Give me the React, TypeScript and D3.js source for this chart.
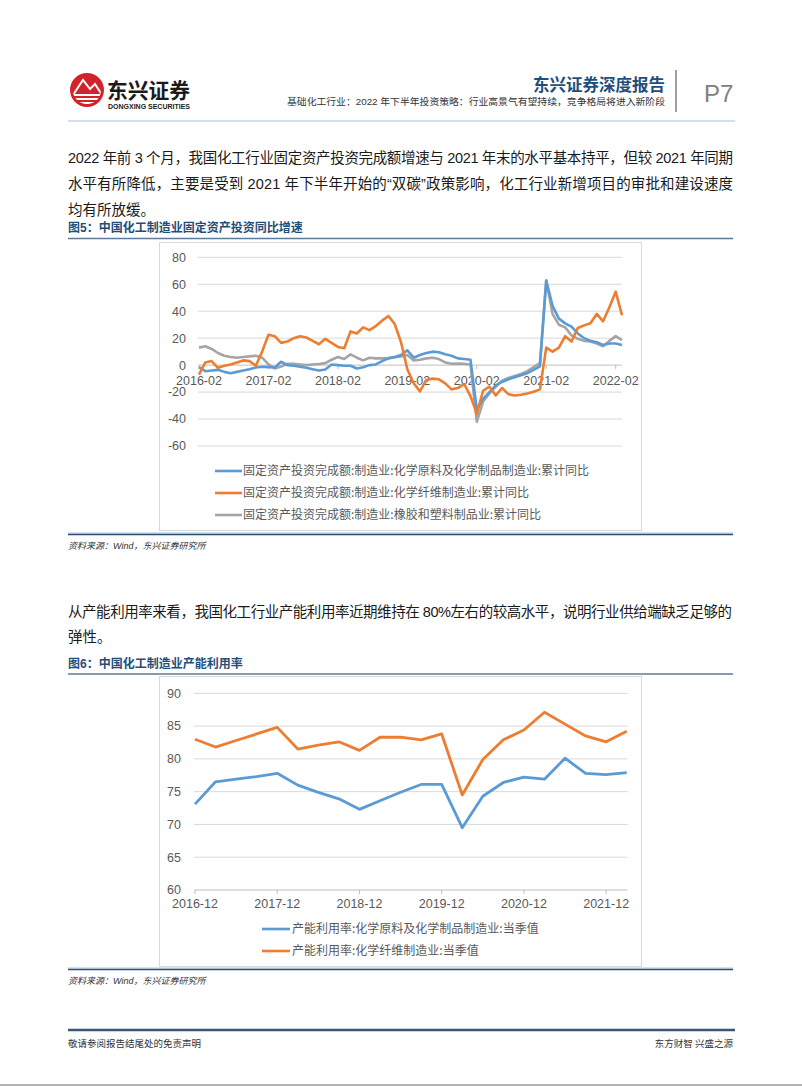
import React from 'react';
import * as d3 from 'd3';

// ---------- Chart 1 data (固定资产投资同比, %) ----------
const years1 = [2016, 2017, 2018, 2019, 2020, 2021];
const months1 = ['02', '03', '04', '05', '06', '07', '08', '09', '10', '11', '12'];
const categories1: string[] = [
  ...years1.flatMap((y) => months1.map((m) => `${y}-${m}`)),
  '2022-02',
  '2022-03',
];
const ticks1 = ['2016-02', '2017-02', '2018-02', '2019-02', '2020-02', '2021-02', '2022-02'];
const yTicks1 = [80, 60, 40, 20, 0, -20, -40, -60];

const chemRawYoY = [
  -1.5, -4.5, -4, -3.5, -5, -6, -5, -4, -3, -1.8, -1.2,
  -1.5, -1.7, 2.5, 0, -0.5, -1.2, -2, -3, -4, -3.2, 0.5,
  0, -0.5, -0.5, -2.5, -1.5, 0, 0.5, 3, 5, 6, 7.5,
  11, 5.5, 7.5, 9, 10, 9.5, 8, 7, 5, 4.5, 4,
  -33, -25, -20, -15, -12.5, -10.5, -9, -7.5, -6, -3.5, -1,
  62.5, 44, 34.5, 31, 28.5, 23.5, 20, 18, 17, 15, 16,
  16, 15,
];
const chemFiberYoY = [
  -7, 2, 3, -2, -0.5, 0.5, 2, 3.5, 3, -0.5, 10,
  22.5, 21.5, 16.5, 17.5, 20, 21.5, 20.5, 18, 15.5, 19.5, 16.5,
  13.5, 12.5, 25, 23.5, 28, 26, 29, 33, 36.5, 30.5, 17,
  -3, -13.5, -19.5, -11, -10, -10.5, -13.5, -18, -17, -14, -23,
  -36, -19, -16, -22.5, -17, -21.5, -22.5, -22, -21, -19.7, -18,
  13, 10, 13, 21.5, 17.5, 27.5, 29.5, 31, 38, 32.5, 43,
  54.5, 37,
];
const rubberPlasticYoY = [
  13, 14, 12, 9, 7, 6, 5.5, 6, 6.5, 7, 5.5,
  0.5, -2.5, -1, 1, 1, 0.5, 0, 0.5, 0.8, 1.5, 4,
  6, 4.5, 8, 5.5, 3.5, 5.5, 5, 5, 5.2, 5.8, 6.5,
  7.5, 3.5, 4, 5, 5.5, 4.5, 2, 1, 1.2, 1, 0.5,
  -42, -27, -21, -16, -11.5, -9.5, -8, -6.5, -4.5, -1.5, 1.5,
  63, 38, 30, 28, 22, 19.5, 18, 17.5, 16, 14, 18,
  21.5, 18.5,
];
const legend1 = [
  '固定资产投资完成额:制造业:化学原料及化学制品制造业:累计同比',
  '固定资产投资完成额:制造业:化学纤维制造业:累计同比',
  '固定资产投资完成额:制造业:橡胶和塑料制品业:累计同比',
];

// ---------- Chart 2 data (产能利用率, %) ----------
const categories2 = [
  '2016-12', '2017-03', '2017-06', '2017-09', '2017-12', '2018-03', '2018-06', '2018-09',
  '2018-12', '2019-03', '2019-06', '2019-09', '2019-12', '2020-03', '2020-06', '2020-09',
  '2020-12', '2021-03', '2021-06', '2021-09', '2021-12', '2022-03',
];
const ticks2 = ['2016-12', '2017-12', '2018-12', '2019-12', '2020-12', '2021-12'];
const yTicks2 = [90, 85, 80, 75, 70, 65, 60];
const chemRawUtil = [
  73.1, 76.5, 76.9, 77.3, 77.8, 76.0, 74.9, 73.9, 72.3, 73.6, 74.9,
  76.1, 76.1, 69.5, 74.3, 76.4, 77.2, 76.9, 80.1, 77.8, 77.6, 77.9,
];
const chemFiberUtil = [
  83.0, 81.8, 82.8, 83.8, 84.8, 81.5, 82.1, 82.6, 81.3, 83.3, 83.3,
  82.9, 83.8, 74.5, 79.9, 82.9, 84.4, 87.1, 85.3, 83.5, 82.6, 84.2,
];
const legend2 = [
  '产能利用率:化学原料及化学制品制造业:当季值',
  '产能利用率:化学纤维制造业:当季值',
];

const COLORS = ['#5b9bd5', '#ed7d31', '#a5a5a5'];
const GRID = '#d9d9d9';
const AXIS_TXT = '#595959';
const NAVY = '#1f4e79';
const FONT = '"Liberation Sans", "Noto Sans CJK SC", sans-serif';
const CJK = '"Noto Sans CJK SC", sans-serif';

function Chart1() {
  const x = d3.scalePoint<string>().domain(categories1).range([199, 622]);
  const y = d3.scaleLinear().domain([-60, 80]).range([446, 257.3]);
  const series = [chemRawYoY, chemFiberYoY, rubberPlasticYoY];
  const line = d3
    .line<number>()
    .x((_, i) => x(categories1[i]) as number)
    .y((d) => y(d));
  const order = [2, 0, 1];
  return (
    <g>
      <rect x={159.5} y={242.5} width={482} height={288} fill="#fff" stroke="#d9d9d9" strokeWidth={1} />
      {yTicks1.map((t) => (
        <g key={t}>
          <line x1={198} x2={622} y1={y(t)} y2={y(t)} stroke={t === 0 ? '#bfbfbf' : GRID} strokeWidth={1} />
          <text x={186} y={y(t)} dy="0.35em" textAnchor="end" fontSize={12.5} fill={AXIS_TXT} fontFamily={FONT}>
            {t}
          </text>
        </g>
      ))}
      {ticks1.map((t) => (
        <g key={t}>
          <line x1={x(t)} x2={x(t)} y1={y(0)} y2={y(0) + 4} stroke="#bfbfbf" />
          <text x={x(t)} y={384.5} textAnchor="middle" fontSize={12.5} fill={AXIS_TXT} fontFamily={FONT}>
            {t}
          </text>
        </g>
      ))}
      {order.map((k) => (
        <path key={k} d={line(series[k]) || ''} fill="none" stroke={COLORS[k]} strokeWidth={2.6} strokeLinejoin="round" />
      ))}
      {legend1.map((name, k) => (
        <g key={name} transform={`translate(0, ${471 + k * 22})`}>
          <line x1={215} x2={242} y1={0} y2={0} stroke={COLORS[k]} strokeWidth={2.6} />
          <text x={243} y={0} dy="0.36em" fontSize={12} fill={AXIS_TXT} fontFamily={CJK}>
            {name}
          </text>
        </g>
      ))}
    </g>
  );
}

function Chart2() {
  const x = d3.scalePoint<string>().domain(categories2).range([195, 626.7]);
  const y = d3.scaleLinear().domain([60, 90]).range([890, 693.3]);
  const series = [chemRawUtil, chemFiberUtil];
  const line = d3
    .line<number>()
    .x((_, i) => x(categories2[i]) as number)
    .y((d) => y(d));
  return (
    <g>
      <rect x={159.5} y={676.5} width={482} height={290} fill="#fff" stroke="#d9d9d9" strokeWidth={1} />
      {yTicks2.map((t) => (
        <g key={t}>
          <line x1={194} x2={627.5} y1={y(t)} y2={y(t)} stroke={t === 60 ? '#bfbfbf' : GRID} strokeWidth={1} />
          <text x={181} y={y(t)} dy="0.35em" textAnchor="end" fontSize={12.5} fill={AXIS_TXT} fontFamily={FONT}>
            {t}
          </text>
        </g>
      ))}
      {ticks2.map((t) => (
        <g key={t}>
          <line x1={x(t)} x2={x(t)} y1={890} y2={894} stroke="#bfbfbf" />
          <text x={x(t)} y={908} textAnchor="middle" fontSize={12.5} fill={AXIS_TXT} fontFamily={FONT}>
            {t}
          </text>
        </g>
      ))}
      {series.map((s, k) => (
        <path key={k} d={line(s) || ''} fill="none" stroke={COLORS[k]} strokeWidth={2.8} strokeLinejoin="round" />
      ))}
      {legend2.map((name, k) => (
        <g key={name} transform={`translate(0, ${929 + k * 22})`}>
          <line x1={262} x2={290} y1={0} y2={0} stroke={COLORS[k]} strokeWidth={2.6} />
          <text x={292} y={0} dy="0.36em" fontSize={12} fill={AXIS_TXT} fontFamily={CJK}>
            {name}
          </text>
        </g>
      ))}
    </g>
  );
}

function Logo() {
  return (
    <g>
      <defs>
        <clipPath id="logoClip">
          <circle cx={87} cy={90} r={14} />
        </clipPath>
      </defs>
      <circle cx={87} cy={90} r={17} fill="#d2232a" />
      <g clipPath="url(#logoClip)" fill="none" stroke="#fff" strokeWidth={2}>
        <path d="M71,98 L83,80 L90,89 L95,84 L104,98" />
        <line x1={70} x2={104} y1={95} y2={95} />
        <line x1={70} x2={104} y1={99} y2={99} />
        <line x1={70} x2={104} y1={103} y2={103} />
      </g>
      <text x={107} y={98} fontSize={21} fontWeight="bold" fill="#1a1a1a" fontFamily={CJK} textLength={83} lengthAdjust="spacingAndGlyphs">
        东兴证券
      </text>
      <text x={108} y={108.5} fontSize={7} fontWeight="bold" fill="#1a1a1a" fontFamily={FONT} textLength={82} lengthAdjust="spacingAndGlyphs">
        DONGXING SECURITIES
      </text>
    </g>
  );
}

export default function App() {
  const bodyFs = 14.5;
  return (
    <svg
      width={802}
      height={1086}
      viewBox="0 0 802 1086"
      style={{ position: 'absolute', left: 0, top: 0, background: '#fff' }}
      xmlns="http://www.w3.org/2000/svg"
    >
      <rect x={0} y={0} width={802} height={1086} fill="#fff" />
      {/* header */}
      <Logo />
      <text x={665} y={90.5} textAnchor="end" fontSize={16.5} fontWeight="bold" fill={NAVY} fontFamily={CJK}>
        东兴证券深度报告
      </text>
      <text x={287} y={104.5} fontSize={9.5} fill="#333" fontFamily={FONT} textLength={378} lengthAdjust="spacingAndGlyphs">
        基础化工行业：2022 年下半年投资策略：行业高景气有望持续，竞争格局将进入新阶段
      </text>
      <line x1={676} x2={676} y1={70} y2={112} stroke="#7f7f7f" strokeWidth={1.5} />
      <text x={704} y={102} fontSize={24} fill="#808080" fontFamily={FONT}>
        P7
      </text>
      <line x1={68} x2={735} y1={121} y2={121} stroke="#c5d5e8" strokeWidth={1.5} />

      {/* paragraph 1 */}
      <g fontSize={bodyFs} fill="#1a1a1a" fontFamily={FONT}>
        <text x={68} y={163} textLength={665} lengthAdjust="spacing">
          2022 年前 3 个月，我国化工行业固定资产投资完成额增速与 2021 年末的水平基本持平，但较 2021 年同期
        </text>
        <text x={68} y={189} textLength={665} lengthAdjust="spacing">
          水平有所降低，主要是受到 2021 年下半年开始的“双碳”政策影响，化工行业新增项目的审批和建设速度
        </text>
        <text x={68} y={215}>均有所放缓。</text>
      </g>

      {/* figure 5 */}
      <text x={68} y={232} fontSize={12} fontWeight="bold" fill={NAVY} fontFamily={FONT}>
        图5：中国化工制造业固定资产投资同比增速
      </text>
      <line x1={68} x2={733} y1={238.5} y2={238.5} stroke="#5d7a99" strokeWidth={1.5} />
      <Chart1 />
      <line x1={68} x2={733} y1={533} y2={533} stroke="#d6e2ee" strokeWidth={2} />
      <line x1={68} x2={733} y1={534.5} y2={534.5} stroke="#2f4b6e" strokeWidth={1.5} />
      <text x={68} y={549} fontSize={9} fontStyle="italic" fill="#333" fontFamily={FONT}>
        资料来源：Wind，东兴证券研究所
      </text>

      {/* paragraph 2 */}
      <g fontSize={bodyFs} fill="#1a1a1a" fontFamily={FONT}>
        <text x={68} y={617} textLength={664} lengthAdjust="spacing">
          从产能利用率来看，我国化工行业产能利用率近期维持在 80%左右的较高水平，说明行业供给端缺乏足够的
        </text>
        <text x={68} y={642}>弹性。</text>
      </g>

      {/* figure 6 */}
      <text x={68} y={668} fontSize={12} fontWeight="bold" fill={NAVY} fontFamily={FONT}>
        图6：中国化工制造业产能利用率
      </text>
      <line x1={68} x2={733} y1={674} y2={674} stroke="#5d7a99" strokeWidth={1.5} />
      <Chart2 />
      <line x1={68} x2={733} y1={968} y2={968} stroke="#d6e2ee" strokeWidth={2} />
      <line x1={68} x2={733} y1={969.5} y2={969.5} stroke="#2f4b6e" strokeWidth={1.5} />
      <text x={68} y={984} fontSize={9} fontStyle="italic" fill="#333" fontFamily={FONT}>
        资料来源：Wind，东兴证券研究所
      </text>

      {/* footer */}
      <line x1={68} x2={735} y1={1030} y2={1030} stroke="#3a5677" strokeWidth={2.5} />
      <text x={68} y={1047} fontSize={9.5} fill="#333" fontFamily={CJK}>
        敬请参阅报告结尾处的免责声明
      </text>
      <text x={733} y={1047} textAnchor="end" fontSize={9.5} fill="#333" fontFamily={CJK}>
        东方财智 兴盛之源
      </text>
      <line x1={0} x2={802} y1={1085} y2={1085} stroke="#9a9a9a" strokeWidth={1.5} />
    </svg>
  );
}
